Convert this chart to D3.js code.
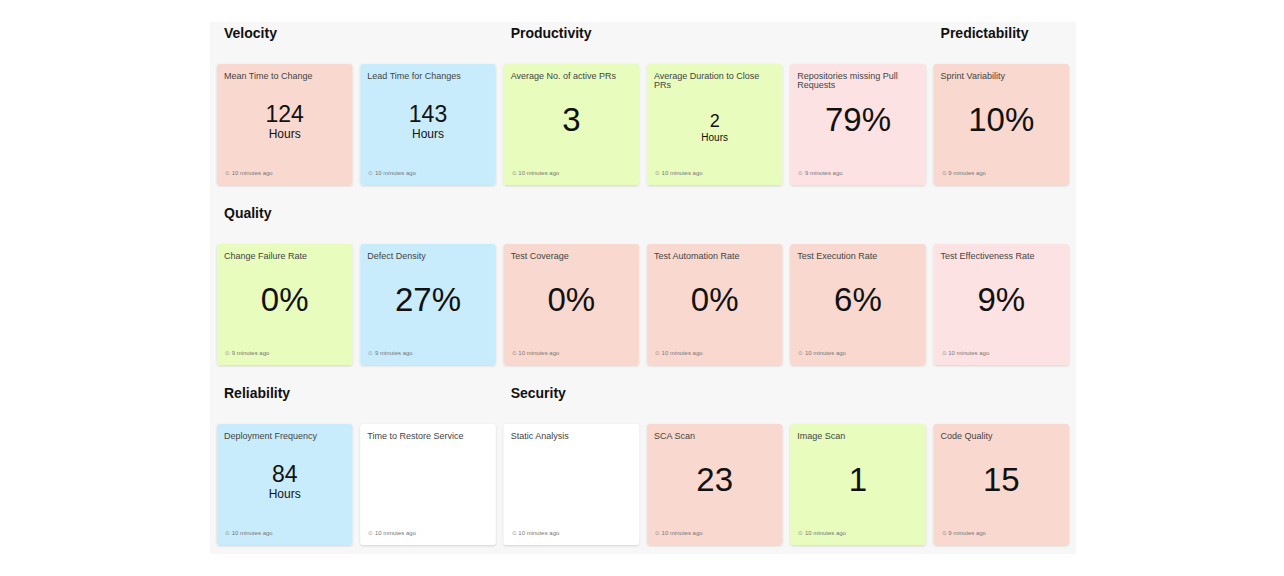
<!DOCTYPE html>
<html><head><meta charset="utf-8">
<script src="https://cdn.jsdelivr.net/npm/d3@7"></script>
<style>body{margin:0;background:#fff;font-family:"Liberation Sans",Arial,sans-serif}</style>
</head><body><div id="chart"></div>
<script>
const sections = [
  {name: "Velocity", row: 0, col: 0},
  {name: "Productivity", row: 0, col: 2},
  {name: "Predictability", row: 0, col: 5},
  {name: "Quality", row: 1, col: 0},
  {name: "Reliability", row: 2, col: 0},
  {name: "Security", row: 2, col: 2}
];
const titles = [
  "Mean Time to Change", "Lead Time for Changes", "Average No. of active PRs", "Average Duration to Close PRs", "Repositories missing Pull Requests", "Sprint Variability",
  "Change Failure Rate", "Defect Density", "Test Coverage", "Test Automation Rate", "Test Execution Rate", "Test Effectiveness Rate",
  "Deployment Frequency", "Time to Restore Service", "Static Analysis", "SCA Scan", "Image Scan", "Code Quality"
];
const values = ["124", "143", "3", "2", "79%", "10%", "0%", "27%", "0%", "0%", "6%", "9%", "84", "", "", "23", "1", "15"];
const units = ["Hours", "Hours", "", "Hours", "", "", "", "", "", "", "", "", "Hours", "", "", "", "", ""];
const colours = ["salmon", "blue", "green", "green", "pink", "salmon", "green", "blue", "salmon", "salmon", "salmon", "pink", "blue", "white", "white", "salmon", "green", "salmon"];
const minutes = [10, 10, 10, 10, 9, 9, 9, 9, 10, 10, 10, 10, 10, 10, 10, 10, 10, 9];
const palette = {salmon: "#f9d9cf", blue: "#c9ecfc", green: "#e7fcbd", pink: "#fde2e3", white: "#ffffff"};

const W = 1284, H = 576;
const svg = d3.select("#chart").append("svg").attr("width", W).attr("height", H);
svg.append("rect").attr("x", 210).attr("y", 22).attr("width", 866).attr("height", 532).attr("fill", "#f7f7f7");

const x = d3.scaleBand().domain(d3.range(6)).range([217, 1069]).paddingInner(0.055);
const y = d3.scaleBand().domain(d3.range(3)).range([64, 545]).paddingInner(0.328);
const cw = x.bandwidth(), ch = y.bandwidth();

const defs = svg.append("defs");
const f = defs.append("filter").attr("id", "sh").attr("x", "-10%").attr("y", "-10%").attr("width", "120%").attr("height", "125%");
f.append("feDropShadow").attr("dx", 0).attr("dy", 1).attr("stdDeviation", 1.2).attr("flood-color", "#000").attr("flood-opacity", 0.15);

svg.selectAll(".sec").data(sections).join("text")
  .attr("x", d => x(d.col) + 7).attr("y", d => y(d.row) - 26)
  .attr("font-size", 14).attr("font-weight", "bold").attr("fill", "#111").text(d => d.name);

const cards = svg.selectAll(".card").data(titles.map((t, i) => ({t, i})))
  .join("g").attr("transform", d => `translate(${x(d.i % 6)},${y(Math.floor(d.i / 6))})`);

cards.append("rect").attr("width", cw).attr("height", ch).attr("rx", 3)
  .attr("fill", d => palette[colours[d.i]]).attr("filter", "url(#sh)");

cards.append("text").attr("x", 7).attr("y", 15).attr("font-size", 9).attr("fill", "#444")
  .each(function(d) {
    const words = d.t.split(" "), el = d3.select(this);
    let line = [], tsp = el.append("tspan").attr("x", 7).attr("dy", 0);
    words.forEach(w => {
      line.push(w); tsp.text(line.join(" "));
      if (tsp.node().getComputedTextLength() > cw - 14) {
        line.pop(); tsp.text(line.join(" ")); line = [w];
        tsp = el.append("tspan").attr("x", 7).attr("dy", 9).text(w);
      }
    });
  });

cards.filter(d => values[d.i] && !units[d.i]).append("text")
  .attr("x", cw / 2).attr("y", 67).attr("text-anchor", "middle").attr("font-size", 33).attr("fill", "#111")
  .text(d => values[d.i]);
cards.filter(d => units[d.i]).each(function(d) {
  const g = d3.select(this), small = d.i === 3;
  g.append("text").attr("x", cw / 2).attr("y", small ? 63 : 58).attr("text-anchor", "middle")
    .attr("font-size", small ? 18 : 23).attr("fill", "#111").text(values[d.i]);
  g.append("text").attr("x", cw / 2).attr("y", small ? 77 : 74).attr("text-anchor", "middle")
    .attr("font-size", small ? 10 : 12).attr("fill", "#111").text(units[d.i]);
});

cards.append("text").attr("x", 8).attr("y", 111).attr("font-size", 6).attr("fill", "#777")
  .text(d => `⏲ ${minutes[d.i]} minutes ago`);
</script></body></html>
